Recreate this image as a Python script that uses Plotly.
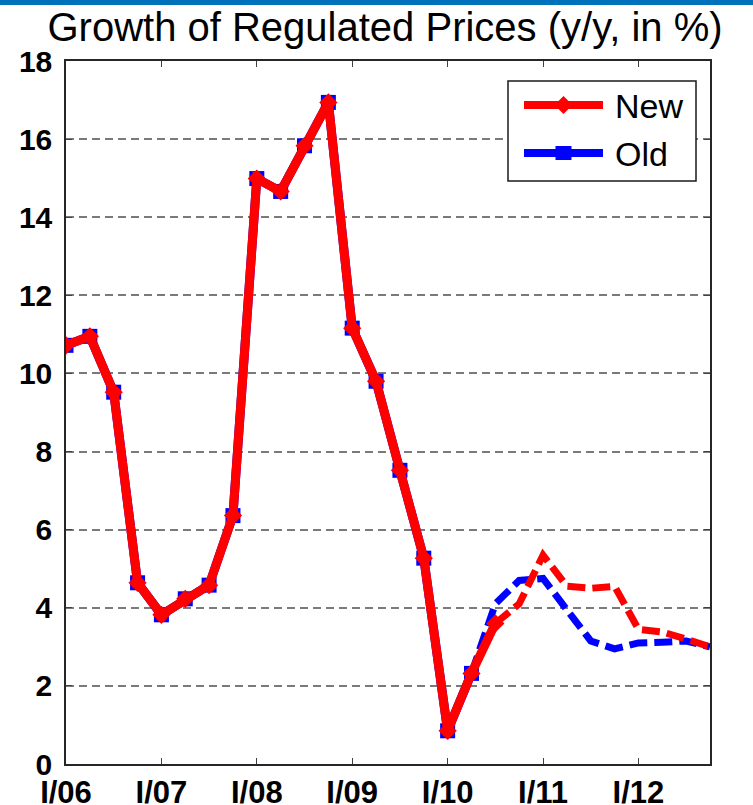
import plotly.graph_objects as go

# ---------------- data ----------------
quarters = [f"{q}/{yy}" for yy in ["06", "07", "08", "09", "10", "11", "12"]
            for q in ["I", "II", "III", "IV"]]
year_ticks = ["I/06", "I/07", "I/08", "I/09", "I/10", "I/11", "I/12"]
y_ticks = [0, 2, 4, 6, 8, 10, 12, 14, 16, 18]

new_values = [10.72, 10.95, 9.52, 4.64, 3.82, 4.23, 4.58, 6.36,
              14.99, 14.66, 15.83, 16.94, 11.16, 9.80, 7.52, 5.27,
              0.85, 2.32, 3.60, 4.10, 5.35, 4.55, 4.50, 4.55,
              3.45, 3.38, 3.20, 3.00]
old_values = [10.72, 10.95, 9.52, 4.64, 3.82, 4.23, 4.58, 6.36,
              14.99, 14.66, 15.83, 16.94, 11.16, 9.80, 7.52, 5.27,
              0.85, 2.32, 4.10, 4.70, 4.75, 3.95, 3.15, 2.95,
              3.10, 3.12, 3.15, 3.00]
new_forecast_start = 18   # index where the "New" series turns dashed
old_forecast_start = 17   # index where the "Old" series turns dashed
series_names = ["New", "Old"]

RED = "#ff0000"
BLUE = "#0000ff"
FONT = "Liberation Sans, Arial, sans-serif"

fig = go.Figure()

# Old series (drawn first, underneath)
fig.add_trace(go.Scatter(
    x=quarters[:old_forecast_start + 1], y=old_values[:old_forecast_start + 1],
    mode="lines+markers", name=series_names[1], showlegend=False,
    line=dict(color=BLUE, width=9),
    marker=dict(symbol="square", size=15, color=BLUE)))
fig.add_trace(go.Scatter(
    x=quarters[old_forecast_start:], y=old_values[old_forecast_start:],
    mode="lines", name=series_names[1] + " (forecast)", showlegend=False,
    line=dict(color=BLUE, width=7, dash="18px,7px")))

# New series
fig.add_trace(go.Scatter(
    x=quarters[new_forecast_start:], y=new_values[new_forecast_start:],
    mode="lines", name=series_names[0] + " (forecast)", showlegend=False,
    line=dict(color=RED, width=7, dash="18px,7px")))
fig.add_trace(go.Scatter(
    x=quarters[:new_forecast_start + 1], y=new_values[:new_forecast_start + 1],
    mode="lines+markers", name=series_names[0], showlegend=False,
    line=dict(color=RED, width=9),
    marker=dict(symbol="diamond", size=14, color=RED)))

# ---------------- custom legend (layout decoration) ----------------
W, H = 644.0, 703.0          # plot area in px
def px_x(p):
    return (p - 66) / W
def px_y(p):
    return (764 - p) / H

shapes = [
    # blue band at top of the image
    dict(type="rect", xref="paper", yref="paper",
         x0=px_x(0), x1=px_x(753), y0=px_y(5), y1=px_y(-1),
         fillcolor="#0072bc", line=dict(width=0), layer="above"),
    # legend box
    dict(type="rect", xref="paper", yref="paper",
         x0=px_x(508), x1=px_x(696), y0=px_y(181), y1=px_y(81),
         fillcolor="white", line=dict(color="#1a1a1a", width=1.5), layer="above"),
    # New sample line
    dict(type="line", xref="paper", yref="paper",
         x0=px_x(524), x1=px_x(603), y0=px_y(105), y1=px_y(105),
         line=dict(color=RED, width=8), layer="above"),
    # New diamond
    dict(type="path", xref="paper", yref="paper",
         xsizemode="pixel", ysizemode="pixel",
         xanchor=px_x(563.5), yanchor=px_y(105),
         path="M -9 0 L 0 9 L 9 0 L 0 -9 Z",
         fillcolor=RED, line=dict(width=0), layer="above"),
    # Old sample line
    dict(type="line", xref="paper", yref="paper",
         x0=px_x(524), x1=px_x(603), y0=px_y(153), y1=px_y(153),
         line=dict(color=BLUE, width=8), layer="above"),
    # Old square
    dict(type="path", xref="paper", yref="paper",
         xsizemode="pixel", ysizemode="pixel",
         xanchor=px_x(563.5), yanchor=px_y(153),
         path="M -8 -7 L 8 -7 L 8 7 L -8 7 Z",
         fillcolor=BLUE, line=dict(width=0), layer="above"),
]
annotations = [
    dict(text=series_names[0], xref="paper", yref="paper",
         x=px_x(613), y=px_y(106), xanchor="left", yanchor="middle",
         showarrow=False, font=dict(family=FONT, size=34, color="black")),
    dict(text=series_names[1], xref="paper", yref="paper",
         x=px_x(613), y=px_y(154), xanchor="left", yanchor="middle",
         showarrow=False, font=dict(family=FONT, size=34, color="black")),
]

fig.update_layout(
    width=753, height=805,
    margin=dict(l=66, r=43, t=61, b=41, autoexpand=False),
    paper_bgcolor="white", plot_bgcolor="white",
    showlegend=False,
    title=dict(text="Growth of Regulated Prices (y/y, in %)",
               x=385 / 753, xanchor="center", xref="container",
               y=1 - 27 / 805, yanchor="middle", yref="container",
               font=dict(family=FONT, size=40, color="black"),
               automargin=False),
    shapes=shapes,
    annotations=annotations,
)

fig.update_xaxes(
    type="category", categoryorder="array", categoryarray=quarters,
    range=[0, 27], tickmode="array", tickvals=year_ticks, ticktext=year_ticks,
    showgrid=False, zeroline=False, automargin=False,
    showline=True, linecolor="#262626", linewidth=1.5, mirror="ticks",
    ticks="inside", ticklen=6, tickwidth=1, tickcolor="#404040",
    ticklabelstandoff=0,
    tickfont=dict(family=FONT, size=31, color="black", weight="bold"),
)
fig.update_yaxes(
    range=[0, 18], tickmode="array", tickvals=y_ticks,
    showgrid=True, gridcolor="#7a7a7a", gridwidth=1.5, griddash="8px,5px",
    zeroline=False, automargin=False,
    showline=True, linecolor="#262626", linewidth=1.5, mirror="ticks",
    ticks="inside", ticklen=6, tickwidth=1, tickcolor="#404040",
    ticklabelstandoff=6,
    tickfont=dict(family=FONT, size=30, color="black", weight="bold"),
)

fig.write_html("out.html",
               config={"displayModeBar": False},
               post_script="document.body.style.margin='0px';"
                           "document.body.style.padding='0px';"
                           "document.body.style.overflow='hidden';")
